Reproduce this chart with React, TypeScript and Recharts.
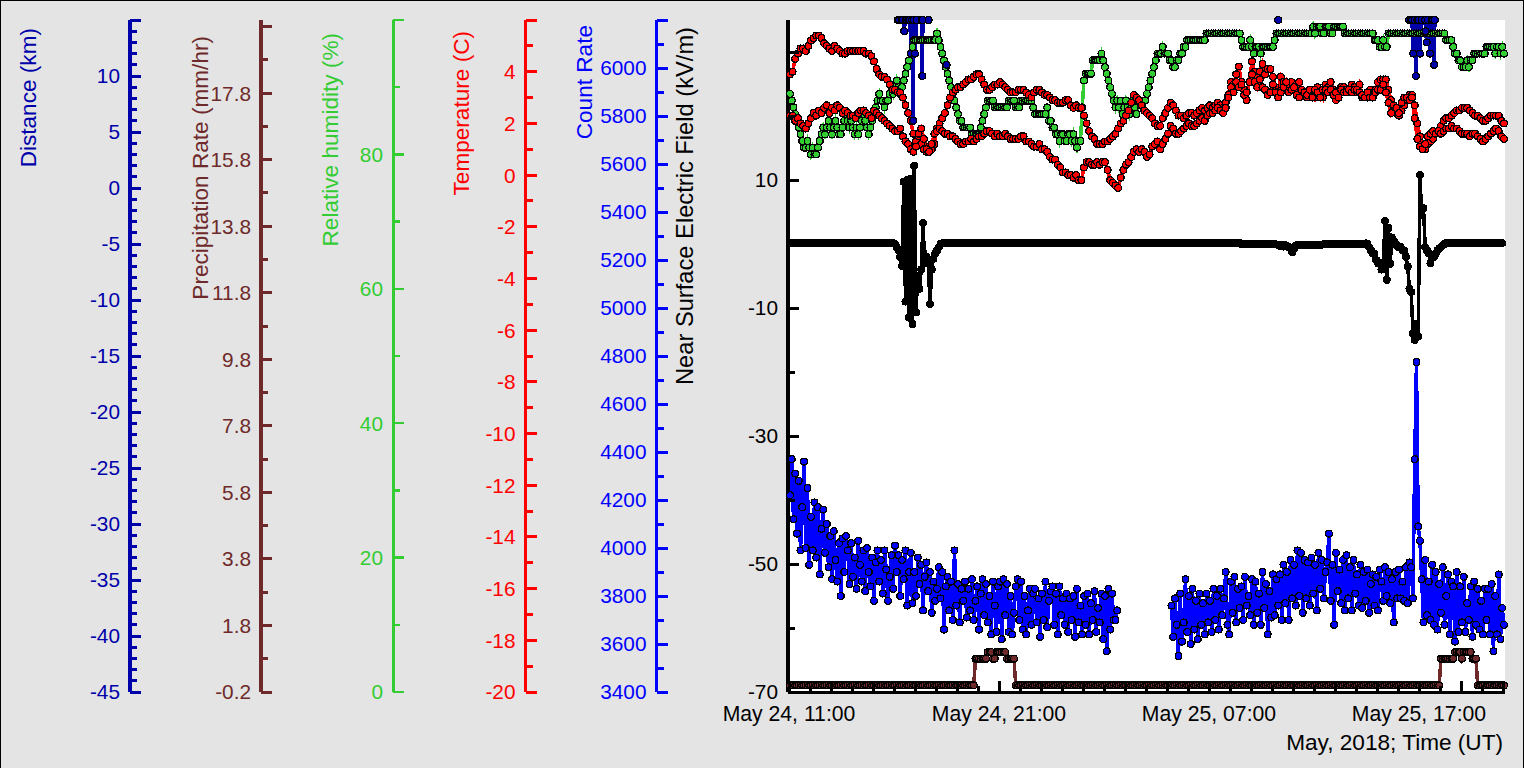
import React from 'react';
import { ComposedChart, Line, XAxis, YAxis, CartesianGrid, Label } from 'recharts';

// All series sampled on regular time grids (hours after May 24, 11:00 UT).
// [value, n] means the value was read as flat for n samples.
const STEP_5MIN = 5 / 60;
const STEP_7MIN = 7.5 / 60;

const humidityRuns: any[] = [
  89,88,87,86,85,84,83,82,81,81,82,81,80,81,80,80,81,82,83,
  84,83,84,85,84,83,84,85,84,83,83,84,85,86,85,84,85,84,83,84,83,84,85,86,85,84,83,84,
  85,86,87,88,89,88,88,87,88,88,89,
  90,89,90,91,90,89,90,91,92,93,94,95,96,97,97,[97,11],
  98,97,96,95,94,93,92,91,90,89,88,
  87,86,85,85,84,84,84,84,84,83,83,83,83,83,84,85,86,87,88,[88,3],[87,8],
  88,88,88,88,87,87,87,88,88,88,88,88,88,88,
  87,[86,7],87,85,85,84,84,83,83,82,83,83,82,82,83,83,82,83,82,81,82,82,
  87,91,92,92,92,92,94,94,94,94,94,95,94,93,92,91,90,89,88,
  87,88,87,88,86,87,88,87,86,87,88,87,86,88,88,88,88,88,89,90,91,92,93,94,95,
  95,95,96,95,95,95,94,94,93,93,94,94,95,95,96,96,97,[97,10],[98,20],
  97,96,96,96,96,97,96,95,96,96,96,95,96,96,96,96,96,96,96,97,[98,21],
  99,98,99,99,99,98,98,99,99,99,98,98,99,99,99,99,99,99,[98,17],
  97,97,97,96,96,97,96,96,[98,12],[98,21],97,97,97,97,96,95,95,94,94,93,93,93,94,93,94,94,
  [95,7],[96,5],95,96,96,95,96,95,
];

const tempUpper: number[] = [
  3.9,4.0,4.5,4.7,4.9,4.9,4.8,5.0,5.2,5.3,5.4,5.4,5.3,5.1,5.0,4.9,4.8,5.0,4.9,4.8,
  4.7,4.7,4.8,4.8,4.8,4.8,4.8,4.8,4.8,4.7,4.7,4.6,4.4,4.1,3.9,3.8,3.8,3.7,3.5,3.3,
  3.3,3.2,3.2,3.0,2.7,2.4,2.1,1.6,1.3,1.5,1.2,1.0,0.9,1.1,1.0,1.2,1.8,2.0,2.2,2.4,
  2.7,3.0,3.2,3.3,3.4,3.4,3.5,3.6,3.7,3.7,3.8,3.9,3.9,3.7,3.5,3.3,3.3,3.4,3.5,3.5,
  3.6,3.5,3.4,3.3,3.2,3.2,3.2,3.3,3.3,3.3,3.2,3.1,3.0,3.2,3.3,3.3,3.2,3.1,3.1,3.0,
  2.9,2.9,2.8,2.8,2.8,2.9,2.9,2.7,2.6,2.7,2.6,2.6,2.3,2.0,1.7,1.5,1.4,1.2,1.2,1.2,
  1.3,1.3,1.4,1.5,1.6,1.8,2.0,2.1,2.3,2.5,2.8,3.1,3.0,2.9,2.7,2.5,2.4,2.3,2.2,2.0,1.9,
  1.9,2.2,2.4,2.6,2.8,2.7,2.5,2.3,2.3,2.2,2.3,2.4,2.4,2.3,2.4,2.5,2.6,2.5,2.6,2.7,
  2.6,2.7,2.8,2.7,2.6,2.8,3.1,3.6,3.5,3.9,4.2,3.6,3.3,2.9,3.6,4.4,4.0,3.6,4.0,4.3,
  3.9,4.1,4.1,3.8,3.4,3.2,3.8,3.6,3.3,3.5,3.6,3.3,3.5,3.6,3.1,3.1,3.0,3.2,3.3,3.0,
  3.4,3.2,3.0,3.5,3.4,3.6,3.3,2.9,3.0,3.4,3.4,3.3,3.3,3.5,3.4,3.2,3.5,3.0,3.0,3.0,
  3.3,3.1,3.3,3.6,3.7,3.7,3.7,3.3,2.9,2.5,2.4,2.3,2.5,2.7,2.9,3.1,3.1,2.7,2.0,1.5,
  1.0,1.0,1.2,1.3,1.4,1.6,1.7,1.9,2.1,2.2,2.2,2.3,2.4,2.5,2.5,2.6,2.6,2.6,2.5,2.4,
  2.3,2.3,2.2,2.1,2.1,2.2,2.3,2.3,2.3,2.3,2.1,2.0,
];

const tempLower: number[] = [
  2.3,2.3,2.1,2.2,2.0,1.9,1.8,2.0,2.2,2.4,2.3,2.5,2.4,2.6,2.7,2.4,2.6,2.5,2.7,2.6,
  2.4,2.5,2.4,2.3,2.3,2.2,2.4,2.5,2.5,2.4,2.3,2.2,2.5,2.4,2.3,2.2,2.1,2.0,1.9,1.8,
  1.7,1.7,1.8,1.5,1.3,1.2,1.0,0.9,1.1,1.6,1.8,1.4,1.0,0.9,1.2,1.6,1.7,1.8,1.7,1.6,
  1.6,1.5,1.5,1.4,1.3,1.2,1.2,1.3,1.3,1.4,1.3,1.4,1.5,1.5,1.6,1.7,1.7,1.6,1.5,1.6,
  1.5,1.5,1.6,1.5,1.4,1.4,1.4,1.4,1.5,1.5,1.3,1.3,1.2,1.1,1.1,1.2,1.0,1.0,0.9,0.7,
  0.6,0.6,0.4,0.3,0.1,0.1,0.0,0.0,-0.1,0.0,-0.2,-0.2,0.3,0.5,0.5,0.4,0.4,0.5,0.4,0.5,
  0.5,0.2,-0.2,-0.3,-0.4,-0.5,-0.1,0.2,0.4,0.5,0.7,0.9,1.0,0.9,1.0,0.9,0.7,0.8,1.1,1.2,1.3,
  1.0,1.2,1.4,1.6,1.9,1.8,1.6,1.6,1.7,1.8,1.9,2.0,1.9,1.9,2.0,2.1,2.2,2.1,2.3,2.4,
  2.4,2.5,2.6,2.5,2.4,2.6,3.0,3.4,3.2,3.6,3.4,3.5,3.1,3.2,3.6,3.9,3.6,3.4,3.7,3.4,
  3.3,3.1,3.2,3.5,3.2,3.0,3.2,3.4,3.6,3.2,3.3,3.4,3.1,3.0,3.3,3.2,3.1,3.3,3.0,3.3,
  3.2,3.0,3.3,3.3,3.2,3.3,3.1,3.2,3.0,3.3,3.2,3.2,3.3,3.2,3.3,3.3,3.2,3.1,3.0,3.2,
  3.0,3.0,3.2,3.3,3.3,3.5,3.2,2.8,2.4,2.7,2.6,2.4,2.8,3.0,3.0,2.9,3.0,2.2,1.4,1.1,
  1.0,1.2,1.5,1.6,1.7,1.6,1.7,1.6,1.7,1.8,1.8,1.9,1.8,1.8,1.7,1.6,1.6,1.6,1.5,1.6,
  1.6,1.5,1.4,1.3,1.4,1.5,1.6,1.7,1.8,1.7,1.5,1.4,
];

const fieldRuns: any[] = [
  [0.15,60],0,-0.5,-1,-2,-3.4,9.7,-9,10,-11.5,10.2,-12.5,12.2,-10.7,-5,-7,-4,3.3,-3,-2,-3,-9.4,-4,-2.3,-1.5,-1,-0.5,0,0.1,
  [0.15,110],[0.1,20],[0.15,40],[0,20],-0.1,-0.2,-0.3,-0.1,-0.4,-0.2,-0.3,-0.5,-0.7,-1.3,-0.8,-0.3,[-0.1,15],[0,24],
  0.1,0,-0.5,-1,-1.5,-1.5,-2.5,-3,-3,-4,-3.6,3.6,-5.6,2.5,-3.1,1,0.5,0,-0.3,-0.5,-0.5,-1,-1,-2,-3.5,-7,-7.5,-14,-15,-12.5,-14.4,10.8,4.5,5.6,-0.5,-1,-1.5,-3,-2,-2,-1.5,-1,-0.7,-0.5,-0.2,0,[0.15,33],
];

const countRuns: any[] = [
  4220,4370,4120,4310,4060,4280,3990,4170,4360,4000,
  4250,3930,4130,3990,4190,3960,4170,3890,4080,4160,
  3980,4100,3920,4050,3870,4070,3950,3860,4020,3800,
  4040,3900,4050,3990,3850,4020,3880,3960,3830,4030,
  3930,3860,3990,3820,4000,3900,3840,3960,3780,3940,
  3990,3860,3950,3810,3990,3910,3780,3880,3970,3830,
  4010,3900,3970,3800,3950,3870,3990,3760,3900,3980,
  3770,3900,3800,3960,3850,3930,3740,3880,3940,3820,
  3900,3730,3860,3780,3830,3920,3790,3900,3660,3840,
  3880,3740,3860,3700,3990,3760,3850,3690,3830,3780,
  3860,3710,3830,3740,3870,3700,3780,3840,3660,3810,
  3870,3720,3850,3690,3800,3640,3860,3760,3650,3840,
  3860,3620,3870,3720,3850,3650,3800,3640,3730,3840,
  3870,3700,3860,3660,3800,3640,3740,3830,3680,3810,
  3830,3690,3790,3630,3810,3700,3860,3670,3780,3820,
  3840,3680,3810,3640,3840,3720,3790,3680,3810,3650,
  3790,3700,3800,3630,3830,3690,3760,3640,3800,3680,
  3810,3640,3770,3700,3820,3650,3750,3690,3810,3620,
  3800,3570,3830,3660,3810,3700,3700,3740,[null,30],
  3760,3630,3790,3680,3550,3810,3610,3690,3870,3650,
  3800,3600,3830,3660,3780,3620,3810,3680,3770,3640,
  3810,3690,3780,3650,3830,3700,3800,3660,3830,3720,
  3790,3900,3680,3640,3860,3730,3880,3690,3830,3750,
  3840,3700,3880,3760,3800,3720,3870,3680,3860,3730,
  3810,3680,3900,3750,3850,3640,3820,3710,3890,3720,
  3870,3760,3890,3700,3930,3770,3900,3700,3950,3790,
  3930,3760,3990,3800,3980,3730,3950,3790,3940,3760,
  3960,3810,3930,3740,3980,3830,3950,3790,3900,3940,
  4060,3780,3930,3680,3980,3820,3910,3770,3950,3740,
  3970,3790,3920,3740,3950,3810,3890,3760,3930,3750,
  3900,3780,3910,3730,3850,3890,3760,3880,3740,3910,
  3860,3780,3920,3800,3900,3770,3870,3690,3900,3790,
  3910,3790,3860,3780,3920,3770,3940,3920,3790,
  4370,4775,4090,4030,3870,3690,3950,3720,3860,3700,3930,3680,
  3900,3660,3850,3730,3920,3680,3800,3890,3640,3860,
  3840,3610,3900,3650,3840,3690,3880,3650,3770,3700,
  3840,3630,3860,3680,3830,3660,3780,3640,3830,3700,
  3830,3640,3850,3570,3800,3640,3890,3620,3750,3680,
];

const precipRuns: any[] = [
  [0,106],[0.8,7],[1,3],[0.8,2],[1,6],[0.8,5],[0,243],[0.8,8],[1,4],0.8,[1,5],[0.8,3],[0,16],
];

const distanceHours = [
  5.13,5.19,5.32,5.38,5.44,5.5,5.57,5.64,5.71,5.76,5.81,5.87,5.9,5.95,6.03,6.27,6.3,6.33,6.6,6.8,
  7.46,7.6,23.25,23.4,
  29.48,29.55,29.62,29.68,29.74,29.81,29.88,29.95,30.0,30.08,30.24,30.27,30.32,30.38,30.48,30.55,30.62,30.68,30.71,
];
const distanceKm = [
  15,15,15,15,14,15,15,15,15,12,15,6,15,12,15,15,10,15,15,null,
  11,null,15,null,
  15,15,15,12,15,10,15,15,12,15,15,14,13,15,12,15,15,11,15,
];

const distanceTicks = [-45,-44,-43,-42,-41,-40,-39,-38,-37,-36,-35,-34,-33,-32,-31,-30,-29,-28,-27,-26,-25,-24,-23,-22,-21,-20,-19,-18,-17,-16,-15,-14,-13,-12,-11,-10,-9,-8,-7,-6,-5,-4,-3,-2,-1,0,1,2,3,4,5,6,7,8,9,10,11,12,13,14,15];
const distanceMajor = [-45,-40,-35,-30,-25,-20,-15,-10,-5,0,5,10,15];
const distanceLabels = [-45,-40,-35,-30,-25,-20,-15,-10,-5,0,5,10];

const precipTicks = [-0.2,0.8,1.8,2.8,3.8,4.8,5.8,6.8,7.8,8.8,9.8,10.8,11.8,12.8,13.8,14.8,15.8,16.8,17.8,18.8,19.8];
const precipMajor = [-0.2,1.8,3.8,5.8,7.8,9.8,11.8,13.8,15.8,17.8,19.8];
const precipLabels = [-0.2,1.8,3.8,5.8,7.8,9.8,11.8,13.8,15.8,17.8];

const humidityTicks = [0,10,20,30,40,50,60,70,80,90,100];
const humidityMajor = [0,20,40,60,80,100];
const humidityLabels = [0,20,40,60,80];

const tempTicks = [-20,-19,-18,-17,-16,-15,-14,-13,-12,-11,-10,-9,-8,-7,-6,-5,-4,-3,-2,-1,0,1,2,3,4,5,6];
const tempMajor = [-20,-18,-16,-14,-12,-10,-8,-6,-4,-2,0,2,4,6];
const tempLabels = [-20,-18,-16,-14,-12,-10,-8,-6,-4,-2,0,2,4];

const countTicks = [3400,3500,3600,3700,3800,3900,4000,4100,4200,4300,4400,4500,4600,4700,4800,4900,5000,5100,5200,5300,5400,5500,5600,5700,5800,5900,6000,6100,6200];
const countMajor = [3400,3600,3800,4000,4200,4400,4600,4800,5000,5200,5400,5600,5800,6000,6200];
const countLabels = [3400,3600,3800,4000,4200,4400,4600,4800,5000,5200,5400,5600,5800,6000];

const fieldTicks = [-70,-60,-50,-40,-30,-20,-10,0,10,20,30];
const fieldMajor = [-70,-50,-30,-10,10,30];
const fieldLabels = [-70,-50,-30,-10,10];

const hourTicks = [0,1,2,3,4,5,6,7,8,9,10,11,12,13,14,15,16,17,18,19,20,21,22,23,24,25,26,27,28,29,30,31,32,33,34];
const hourMajor = [0,2,4,6,8,10,12,14,16,18,20,22,24,26,28,30,32,34];
const hourLabels: Record<number, string> = { 0: 'May 24, 11:00', 10: 'May 24, 21:00', 20: 'May 25, 07:00', 30: 'May 25, 17:00' };

const FONT = '"Liberation Sans", Arial, sans-serif';
const FS = 20.8;
const FS_X = 21.2;
const FS_TITLE = 22.6;
const C_DIST = '#0000AA';
const C_PRECIP = '#6E2A2A';
const C_HUM = '#33CC33';
const C_TEMP = '#FF0000';
const C_COUNT = '#0000FF';
const C_FIELD = '#000000';

const expand = (runs: any[]) => runs.flatMap((e) => (Array.isArray(e) ? Array(e[1]).fill(e[0]) : [e]));
const toPoints = (vals: any[], step: number) => vals.map((y, i) => ({ t: i * step, y }));

const humidityData = toPoints(expand(humidityRuns), STEP_5MIN);
const upperData = toPoints(tempUpper, STEP_7MIN);
const lowerData = toPoints(tempLower, STEP_7MIN);
const fieldData = toPoints(expand(fieldRuns), STEP_5MIN);
const countData = toPoints(expand(countRuns), STEP_5MIN);
const precipData = toPoints(expand(precipRuns), STEP_5MIN);
const distanceData = distanceHours.map((t, i) => ({ t, y: distanceKm[i] }));

const yTick = (color: string, major: number[], labels: number[], fmt: (v: number) => string, sw = 3) => (props: any) => {
  const { x, y, payload } = props;
  const v = payload.value;
  const isMajor = major.includes(v);
  return (
    <g>
      <line x1={x} x2={x + (isMajor ? 11 : 7)} y1={y} y2={y} stroke={color} strokeWidth={sw} />
      {labels.includes(v) ? (
        <text x={x - 10} y={y} dy="0.36em" textAnchor="end" fill={color} fontFamily={FONT} fontSize={FS}>{fmt(v)}</text>
      ) : null}
    </g>
  );
};

const xTick = (props: any) => {
  const { x, y, payload } = props;
  const v = payload.value;
  const isMajor = hourMajor.includes(v);
  return (
    <g>
      <line x1={x} x2={x} y1={y} y2={y - (isMajor ? 11 : 6)} stroke="#000" strokeWidth={3} />
      {hourLabels[v] ? (
        <text x={x - 1} y={y + 29} textAnchor="middle" fill="#000" fontFamily={FONT} fontSize={FS_X}>{hourLabels[v]}</text>
      ) : null}
    </g>
  );
};

const axisTitle = (text: string, color: string, x: number, y: number, size = FS_TITLE) => () => (
  <text x={x} y={y} transform={`rotate(-90 ${x} ${y})`} textAnchor="end" fill={color} fontFamily={FONT} fontSize={size}>{text}</text>
);

const dotOf = (color: string) => ({ r: 3.4, fill: color, stroke: '#000', strokeWidth: 1.2 });

export default function App() {
  const str = (v: number) => String(v);
  return (
    <div style={{ position: 'absolute', left: 0, top: 0, width: 1524, height: 768, background: '#E4E4E4', boxShadow: 'inset 1px 1px 0 #000, inset -1px 0 0 #000', shapeRendering: 'crispEdges' as any }}>
      <ComposedChart width={1524} height={768} margin={{ left: 0, right: 19, top: 20, bottom: 0 }}>
        <CartesianGrid horizontal={false} vertical={false} fill="#FFFFFF" fillOpacity={1} stroke="none" xAxisId={0} yAxisId="a_field" />
        <XAxis xAxisId={0} type="number" dataKey="t" domain={[-0.095, 34.05]} ticks={hourTicks} interval={0} height={76}
          tick={xTick} tickSize={0} tickMargin={0} tickLine={false} axisLine={{ stroke: '#000', strokeWidth: 3 }}>
          <Label content={() => <text x={1503} y={750} textAnchor="end" fill="#000" fontFamily={FONT} fontSize={FS_TITLE}>May, 2018; Time (UT)</text>} />
        </XAxis>
        <YAxis yAxisId="a_field" type="number" domain={[-70, 35]} ticks={fieldTicks} interval={0} width={131.5}
          tick={yTick('#000', fieldMajor, fieldLabels, str)} tickSize={0} tickMargin={0} tickLine={false} axisLine={{ stroke: '#000', strokeWidth: 4 }}>
          <Label content={axisTitle('Near Surface Electric Field (kV/m)', '#000', 693, 27, 23.7)} />
        </YAxis>
        <YAxis yAxisId="b_count" type="number" domain={[3400, 6200]} ticks={countTicks} interval={0} width={131}
          tick={yTick(C_COUNT, countMajor, countLabels, str)} tickSize={0} tickMargin={0} tickLine={false} axisLine={{ stroke: C_COUNT, strokeWidth: 3.5 }}>
          <Label content={axisTitle('Count Rate', C_COUNT, 592, 25)} />
        </YAxis>
        <YAxis yAxisId="c_temp" type="number" domain={[-20, 6]} ticks={tempTicks} interval={0} width={132.5}
          tick={yTick(C_TEMP, tempMajor, tempLabels, str)} tickSize={0} tickMargin={0} tickLine={false} axisLine={{ stroke: C_TEMP, strokeWidth: 3 }}>
          <Label content={axisTitle('Temperature (C)', C_TEMP, 469, 31)} />
        </YAxis>
        <YAxis yAxisId="d_hum" type="number" domain={[0, 100]} ticks={humidityTicks} interval={0} width={132}
          tick={yTick(C_HUM, humidityMajor, humidityLabels, str, 2.5)} tickSize={0} tickMargin={0} tickLine={false} axisLine={{ stroke: C_HUM, strokeWidth: 3 }}>
          <Label content={axisTitle('Relative humidity (%)', C_HUM, 338, 33)} />
        </YAxis>
        <YAxis yAxisId="e_precip" type="number" domain={[-0.2, 20]} ticks={precipTicks} interval={0} width={131}
          tick={yTick(C_PRECIP, precipMajor, precipLabels, (v) => v.toFixed(1))} tickSize={0} tickMargin={0} tickLine={false} axisLine={{ stroke: C_PRECIP, strokeWidth: 4 }}>
          <Label content={axisTitle('Precipitation Rate (mm/hr)', C_PRECIP, 208, 36)} />
        </YAxis>
        <YAxis yAxisId="f_dist" type="number" domain={[-45, 15]} ticks={distanceTicks} interval={0} width={130}
          tick={yTick(C_DIST, distanceMajor, distanceLabels, str)} tickSize={0} tickMargin={0} tickLine={false} axisLine={{ stroke: C_DIST, strokeWidth: 4 }}>
          <Label content={axisTitle('Distance (km)', C_DIST, 36, 28)} />
        </YAxis>

        <Line data={countData} dataKey="y" yAxisId="b_count" xAxisId={0} type="linear" stroke={C_COUNT} strokeWidth={3.5} dot={dotOf(C_COUNT)} isAnimationActive={false} />
        <Line data={fieldData} dataKey="y" yAxisId="a_field" xAxisId={0} type="linear" stroke={C_FIELD} strokeWidth={3.5} dot={dotOf(C_FIELD)} isAnimationActive={false} />
        <Line data={humidityData} dataKey="y" yAxisId="d_hum" xAxisId={0} type="linear" stroke={C_HUM} strokeWidth={3.5} dot={dotOf(C_HUM)} isAnimationActive={false} />
        <Line data={upperData} dataKey="y" yAxisId="c_temp" xAxisId={0} type="linear" stroke={C_TEMP} strokeWidth={3.5} dot={dotOf(C_TEMP)} isAnimationActive={false} />
        <Line data={lowerData} dataKey="y" yAxisId="c_temp" xAxisId={0} type="linear" stroke={C_TEMP} strokeWidth={3.5} dot={dotOf(C_TEMP)} isAnimationActive={false} />
        <Line data={distanceData} dataKey="y" yAxisId="f_dist" xAxisId={0} type="linear" stroke={C_DIST} strokeWidth={3.5} dot={dotOf(C_DIST)} isAnimationActive={false} />
        <Line data={precipData} dataKey="y" yAxisId="e_precip" xAxisId={0} type="linear" stroke={C_PRECIP} strokeWidth={3.5} dot={dotOf(C_PRECIP)} isAnimationActive={false} />
      </ComposedChart>
    </div>
  );
}
